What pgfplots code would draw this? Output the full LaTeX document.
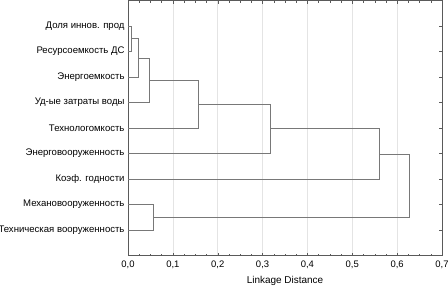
\documentclass[border=0pt]{standalone}
\usepackage{pgfplots}
\pgfplotsset{compat=1.18}
\usepackage{fontspec}
\setmainfont{Liberation Sans}
\definecolor{linec}{RGB}{120,120,120}
\definecolor{framec}{RGB}{90,90,90}
\definecolor{gridc}{RGB}{228,228,228}
\tikzset{dl/.style={draw=linec, line width=0.65bp, mark=none, solid}}
\begin{document}
\begin{tikzpicture}
\begin{axis}[
  scale only axis,
  width=314bp, height=255bp,
  xmin=0, xmax=0.7, ymin=0, ymax=10,
  y dir=reverse,
  axis line style={framec, line width=0.6bp},
  xtick={0,0.1,...,0.7},
  minor x tick num=3,
  ytick={1,...,9},
  yticklabels={Доля иннов. прод, Ресурсоемкость ДС, Энергоемкость, Уд-ые затраты воды, Технологомкость, Энерговооруженность, Коэф. годности, Механовооруженность, Техническая вооруженность},
  tick align=inside,
  major tick length=3bp,
  minor tick length=2bp,
  tick style={framec, line width=0.4bp},
  xmajorgrids,
  major x grid style={gridc, line width=0.6bp},
  xticklabel style={font=\fontsize{9.5}{11}\selectfont, yshift=-2bp, /pgf/number format/.cd, fixed, fixed zerofill, precision=1, use comma, assume math mode=true},
  yticklabel style={font=\fontsize{9.6}{11}\selectfont},
  xlabel={Linkage Distance},
  xlabel style={font=\fontsize{10}{12}\selectfont, yshift=-1bp},
]
\addplot[dl] coordinates {(0,1) (0.008,1) (0.008,2) (0,2)};
\addplot[dl] coordinates {(0.008,1.5) (0.023,1.5) (0.023,3) (0,3)};
\addplot[dl] coordinates {(0.023,2.25) (0.047,2.25) (0.047,4) (0,4)};
\addplot[dl] coordinates {(0.047,3.125) (0.157,3.125) (0.157,5) (0,5)};
\addplot[dl] coordinates {(0.157,4.0625) (0.318,4.0625) (0.318,6) (0,6)};
\addplot[dl] coordinates {(0.318,5.03125) (0.56,5.03125) (0.56,7) (0,7)};
\addplot[dl] coordinates {(0,8) (0.057,8) (0.057,9) (0,9)};
\addplot[dl] coordinates {(0.56,6.015625) (0.628,6.015625) (0.628,8.5) (0.057,8.5)};
\end{axis}
\pgfresetboundingbox
\useasboundingbox ([xshift=-128bp,yshift=-33bp]current axis.south west) rectangle ([xshift=6bp,yshift=0.5bp]current axis.north east);
\end{tikzpicture}
\end{document}
